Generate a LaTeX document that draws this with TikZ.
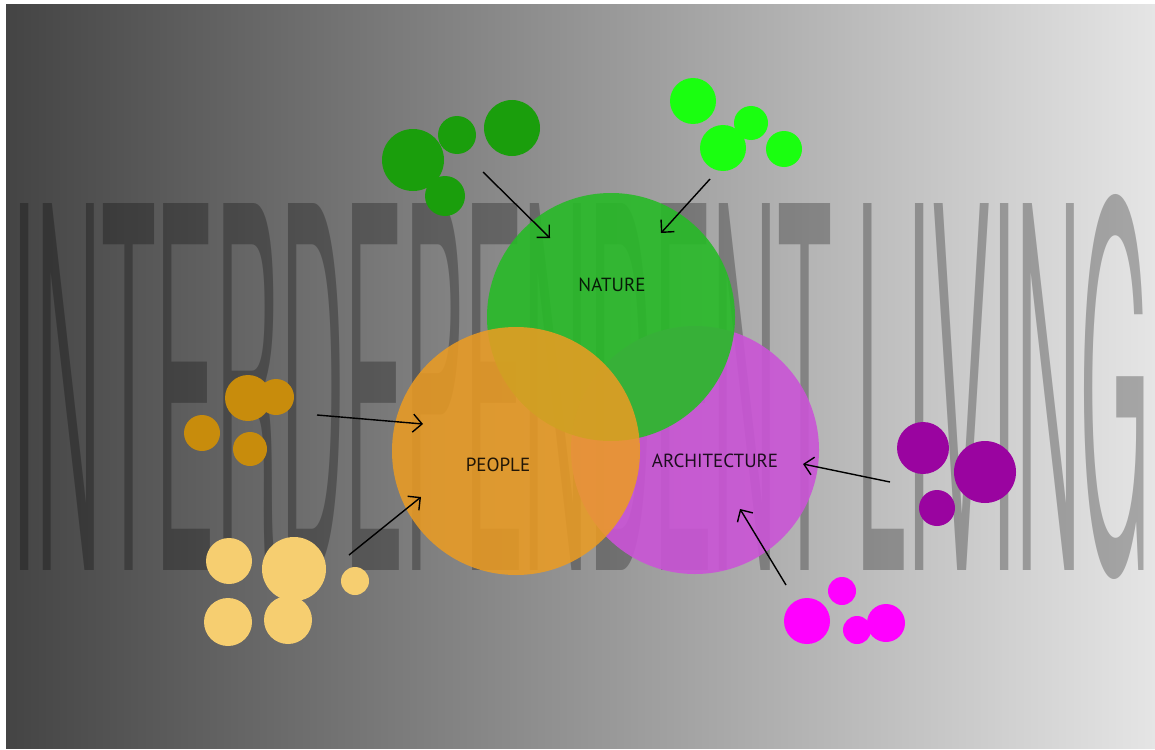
\documentclass[tikz,border=0pt]{standalone}
\usepackage{fontspec}
\setmainfont{PT Sans}
\newfontfamily\bannerfont{TeX Gyre Heros}
\usepackage{graphicx}
\usetikzlibrary{arrows.meta}

\definecolor{bgdark}{RGB}{68,68,68}
\definecolor{bgmid}{RGB}{140,140,140}
\definecolor{bglight}{RGB}{229,229,229}
\definecolor{naturegreen}{RGB}{40,186,40}
\definecolor{peopleorange}{RGB}{236,156,34}
\definecolor{archimagenta}{RGB}{202,84,214}
\definecolor{leafdark}{RGB}{26,158,12}
\definecolor{leaflight}{RGB}{26,255,16}
\definecolor{folkdark}{RGB}{200,140,12}
\definecolor{folklight}{RGB}{246,206,112}
\definecolor{housedark}{RGB}{154,4,160}
\definecolor{houselight}{RGB}{255,0,255}

\begin{document}
\begin{tikzpicture}[x=1pt, y=-1pt,
		blob/.style={circle, inner sep=0pt, minimum size=#1},
		venn/.style={circle, inner sep=0pt, minimum size=248pt, fill opacity=0.9},
		tag/.style={inner sep=0pt, text=black, text opacity=0.85, font=\fontsize{19}{22}\selectfont},
		link/.style={draw, line width=1.4pt, -{Straight Barb[length=9pt, width=18pt]}}]
		\useasboundingbox[fill=white] (0,0) rectangle (1155,749);
		\path[left color=bgdark, middle color=bgmid, right color=bglight] (6,5) rectangle (1155,748);

		% the big word behind everything
		\node[inner sep=0pt, text=black, text opacity=0.27] (banner) at (581,387)
			{\resizebox{1138pt}{376pt}{\bannerfont INTERDEPENDENT LIVING}};

		% nature clusters
		\node[blob=62pt, fill=leafdark] (leaf1) at (413,160) {};
		\node[blob=38pt, fill=leafdark] (leaf2) at (457,135) {};
		\node[blob=56pt, fill=leafdark] (leaf3) at (512,128) {};
		\node[blob=40pt, fill=leafdark] (leaf4) at (445,196) {};
		\node[blob=46pt, fill=leaflight] (sprout1) at (693,101) {};
		\node[blob=34pt, fill=leaflight] (sprout2) at (751,123) {};
		\node[blob=46pt, fill=leaflight] (sprout3) at (723,148) {};
		\node[blob=36pt, fill=leaflight] (sprout4) at (784,149) {};

		% people clusters
		\node[blob=46pt, fill=folkdark] (folk1) at (248,398) {};
		\node[blob=36pt, fill=folkdark] (folk2) at (276,397) {};
		\node[blob=36pt, fill=folkdark] (folk3) at (202,433) {};
		\node[blob=34pt, fill=folkdark] (folk4) at (250,449) {};
		\node[blob=46pt, fill=folklight] (kin1) at (229,561) {};
		\node[blob=64pt, fill=folklight] (kin2) at (294,569) {};
		\node[blob=28pt, fill=folklight] (kin3) at (355,581) {};
		\node[blob=48pt, fill=folklight] (kin4) at (228,622) {};
		\node[blob=48pt, fill=folklight] (kin5) at (288,620) {};

		% architecture clusters
		\node[blob=52pt, fill=housedark] (house1) at (923,448) {};
		\node[blob=62pt, fill=housedark] (house2) at (985,472) {};
		\node[blob=36pt, fill=housedark] (house3) at (937,508) {};
		\node[blob=46pt, fill=houselight] (room1) at (807,621) {};
		\node[blob=28pt, fill=houselight] (room2) at (842,591) {};
		\node[blob=28pt, fill=houselight] (room3) at (857,630) {};
		\node[blob=38pt, fill=houselight] (room4) at (886,623) {};

		% venn
		\node[venn, fill=archimagenta] (architecture) at (695,450) {};
		\node[venn, fill=naturegreen] (nature) at (611,317) {};
		\node[venn, fill=peopleorange, fill opacity=0.86] (people) at (516,451) {};

		\node[tag] (naturetext) at (612,285) {NATURE};
		\node[tag] (peopletext) at (498,465) {PEOPLE};
		\node[tag] (architext) at (715,461) {ARCHITECTURE};

		\coordinate (leaftail) at (483,172);
		\coordinate (leafhead) at (550,238);
		\coordinate (sprouttail) at (710,179);
		\coordinate (sprouthead) at (661,233);
		\coordinate (folktail) at (317,415);
		\coordinate (folkhead) at (423,424);
		\coordinate (kintail) at (349,555);
		\coordinate (kinhead) at (421,497);
		\coordinate (housetail) at (890,482);
		\coordinate (househead) at (803,464);
		\coordinate (roomtail) at (786,585);
		\coordinate (roomhead) at (740,509);

		\path[link] (leaftail) -- (leafhead);
		\path[link] (sprouttail) -- (sprouthead);
		\path[link] (folktail) -- (folkhead);
		\path[link] (kintail) -- (kinhead);
		\path[link] (housetail) -- (househead);
		\path[link] (roomtail) -- (roomhead);
\end{tikzpicture}
\end{document}
